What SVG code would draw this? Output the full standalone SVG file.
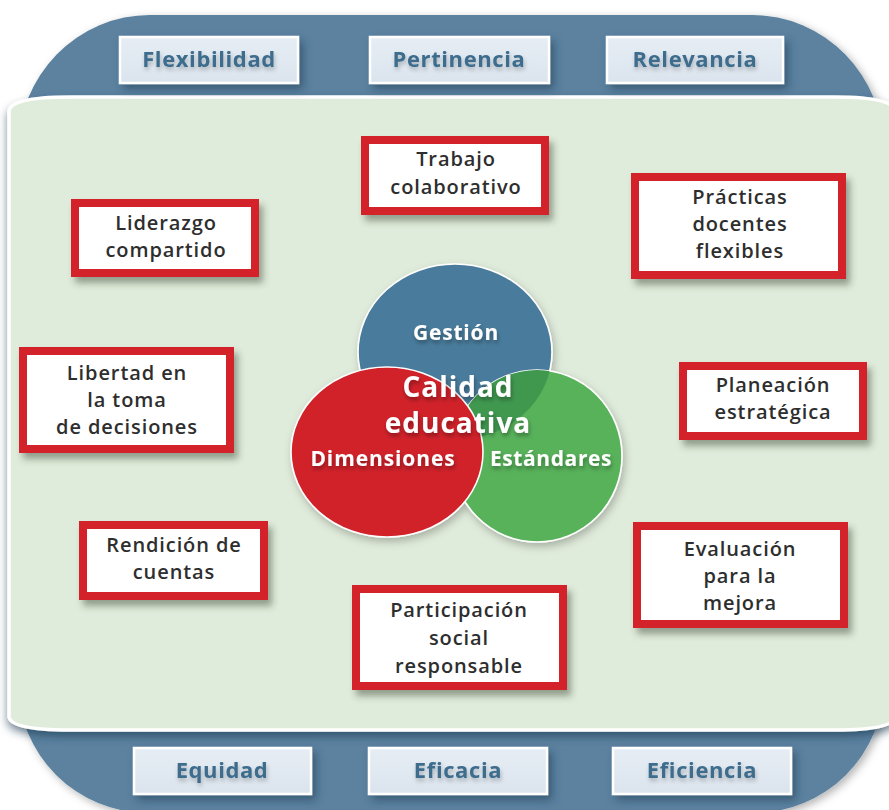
<svg xmlns="http://www.w3.org/2000/svg" width="889" height="810" viewBox="0 0 889 810">
<defs>
<style>
.tab rect{fill:url(#tabGrad);stroke:#ffffff;stroke-width:2.5;filter:url(#tabShadow)}
.tab text{font-family:"Open Sans","Liberation Sans",sans-serif;font-weight:700;font-size:22px;fill:#3c6c8d;text-anchor:middle;letter-spacing:0.6px;filter:url(#txtShadow)}
.box rect{fill:#ffffff;stroke:#d3222a;stroke-width:8;filter:url(#boxShadow)}
.box text{font-family:"Open Sans","Liberation Sans",sans-serif;font-weight:600;font-size:20px;fill:#2e2e2e;text-anchor:middle;letter-spacing:0.9px}
.ctext{font-family:"Open Sans","Liberation Sans",sans-serif;font-weight:700;fill:#ffffff;text-anchor:middle;filter:url(#cShadow)}
.circ{stroke:#ffffff;stroke-width:1.6}
</style>
<linearGradient id="tabGrad" x1="0" y1="0" x2="0" y2="1">
<stop offset="0" stop-color="#e6edf4"/>
<stop offset="1" stop-color="#dbe4ee"/>
</linearGradient>
<filter id="tabShadow" x="-20%" y="-40%" width="140%" height="200%">
<feGaussianBlur in="SourceAlpha" stdDeviation="4"/>
<feOffset dx="4" dy="5" result="b"/>
<feFlood flood-color="#1c3b52" flood-opacity="0.55"/>
<feComposite in2="b" operator="in"/>
<feMerge><feMergeNode/><feMergeNode in="SourceGraphic"/></feMerge>
</filter>
<filter id="txtShadow" x="-10%" y="-30%" width="120%" height="180%">
<feGaussianBlur in="SourceAlpha" stdDeviation="2"/>
<feOffset dx="1" dy="3" result="b"/>
<feFlood flood-color="#000000" flood-opacity="0.25"/>
<feComposite in2="b" operator="in"/>
<feMerge><feMergeNode/><feMergeNode in="SourceGraphic"/></feMerge>
</filter>
<filter id="boxShadow" x="-20%" y="-30%" width="140%" height="170%">
<feGaussianBlur in="SourceAlpha" stdDeviation="3.5"/>
<feOffset dx="4" dy="6" result="b"/>
<feFlood flood-color="#2e3b2a" flood-opacity="0.45"/>
<feComposite in2="b" operator="in"/>
<feMerge><feMergeNode/><feMergeNode in="SourceGraphic"/></feMerge>
</filter>
<filter id="cShadow" x="-20%" y="-40%" width="140%" height="200%">
<feGaussianBlur in="SourceAlpha" stdDeviation="2"/>
<feOffset dx="1" dy="3" result="b"/>
<feFlood flood-color="#000000" flood-opacity="0.35"/>
<feComposite in2="b" operator="in"/>
<feMerge><feMergeNode/><feMergeNode in="SourceGraphic"/></feMerge>
</filter>
<filter id="frameShadow" x="-5%" y="-5%" width="110%" height="110%">
<feGaussianBlur in="SourceAlpha" stdDeviation="4"/>
<feOffset dx="3" dy="3" result="b"/>
<feFlood flood-color="#000000" flood-opacity="0.3"/>
<feComposite in2="b" operator="in"/>
<feMerge><feMergeNode/><feMergeNode in="SourceGraphic"/></feMerge>
</filter>
<filter id="panelShadow" x="-5%" y="-5%" width="110%" height="110%">
<feGaussianBlur in="SourceAlpha" stdDeviation="4"/>
<feOffset dx="0" dy="5" result="b"/>
<feFlood flood-color="#1c3b52" flood-opacity="0.6"/>
<feComposite in2="b" operator="in"/>
<feMerge><feMergeNode/><feMergeNode in="SourceGraphic"/></feMerge>
</filter>
<filter id="circShadow" x="-20%" y="-20%" width="140%" height="140%">
<feGaussianBlur in="SourceAlpha" stdDeviation="4"/>
<feOffset dx="2" dy="4" result="b"/>
<feFlood flood-color="#000000" flood-opacity="0.25"/>
<feComposite in2="b" operator="in"/>
<feMerge><feMergeNode/><feMergeNode in="SourceGraphic"/></feMerge>
</filter>
<clipPath id="greenClip"><ellipse cx="537" cy="456" rx="85" ry="86"/></clipPath>
</defs>

<rect x="0" y="0" width="889" height="810" fill="#ffffff"/>

<!-- outer blue frame -->
<g id="frame">
<path d="M18,683 L18,150 A132,135 0 0 1 150,15 L752,15 A132,135 0 0 1 884,150 L884,683 A130,130 0 0 1 754,813 L148,813 A130,130 0 0 1 18,683 Z" fill="#5b82a0" filter="url(#frameShadow)"/>
</g>

<!-- green panel -->
<g id="panel">
<path d="M9,112 Q9,97 70,97 L835,97 Q895,97 895,112 L895,716 Q895,730 835,730 L70,730 Q9,730 9,716 Z" fill="#e0ecdb" stroke="#ffffff" stroke-width="3.5" filter="url(#panelShadow)"/>
</g>

<!-- top tabs -->
<g id="tab-flexibilidad" class="tab"><rect x="120" y="37" width="178" height="46"/><text x="209" y="67">Flexibilidad</text></g>
<g id="tab-pertinencia" class="tab"><rect x="370" y="37" width="179" height="46"/><text x="459" y="67">Pertinencia</text></g>
<g id="tab-relevancia" class="tab"><rect x="607" y="37" width="176" height="46"/><text x="695" y="67">Relevancia</text></g>

<!-- bottom tabs -->
<g id="tab-equidad" class="tab"><rect x="134" y="748" width="177" height="46"/><text x="222" y="778">Equidad</text></g>
<g id="tab-eficacia" class="tab"><rect x="369" y="748" width="178" height="46"/><text x="458" y="778">Eficacia</text></g>
<g id="tab-eficiencia" class="tab"><rect x="613" y="748" width="178" height="46"/><text x="702" y="778">Eficiencia</text></g>

<!-- central circles -->
<g id="circles" filter="url(#circShadow)">
<g id="circle-gestion"><ellipse class="circ" cx="455" cy="352" rx="97" ry="88" fill="#4a7b9c"/></g>
<g id="circle-estandares">
<ellipse class="circ" cx="537" cy="456" rx="85" ry="86" fill="#58b25a"/>
<ellipse cx="455" cy="352" rx="97" ry="88" fill="#40984f" clip-path="url(#greenClip)"/>
</g>
<g id="circle-dimensiones"><ellipse class="circ" cx="387" cy="452" rx="96" ry="85" fill="#d1202a"/></g>
</g>
<g id="circle-labels">
<text class="ctext" x="456" y="340" font-size="21" letter-spacing="0.8">Gestión</text>
<text class="ctext" x="458" y="397" font-size="28" font-weight="600" letter-spacing="1">Calidad</text>
<text class="ctext" x="458" y="433" font-size="28" font-weight="600" letter-spacing="1">educativa</text>
<text class="ctext" x="383" y="466" font-size="21" letter-spacing="0.9">Dimensiones</text>
<text class="ctext" x="551" y="466" font-size="21" letter-spacing="0.6">Estándares</text>
</g>

<!-- red boxes -->
<g id="node-trabajo" class="box"><rect x="365" y="140" width="180" height="71"/>
<text x="456" y="166">Trabajo</text><text x="456" y="194">colaborativo</text></g>

<g id="node-liderazgo" class="box"><rect x="75" y="203" width="180" height="70"/>
<text x="166" y="230">Liderazgo</text><text x="166" y="257">compartido</text></g>

<g id="node-practicas" class="box"><rect x="635" y="177" width="207" height="98"/>
<text x="740" y="204">Prácticas</text><text x="740" y="231">docentes</text><text x="740" y="258">flexibles</text></g>

<g id="node-libertad" class="box"><rect x="23" y="351" width="207" height="98"/>
<text x="127" y="380">Libertad en</text><text x="127" y="407">la toma</text><text x="127" y="434">de decisiones</text></g>

<g id="node-planeacion" class="box"><rect x="683" y="366" width="180" height="70"/>
<text x="773" y="392">Planeación</text><text x="773" y="419">estratégica</text></g>

<g id="node-rendicion" class="box"><rect x="83" y="525" width="181" height="71"/>
<text x="174" y="552">Rendición de</text><text x="174" y="579">cuentas</text></g>

<g id="node-evaluacion" class="box"><rect x="637" y="526" width="207" height="98"/>
<text x="740" y="556">Evaluación</text><text x="740" y="583">para la</text><text x="740" y="610">mejora</text></g>

<g id="node-participacion" class="box"><rect x="356" y="589" width="207" height="97"/>
<text x="459" y="617">Participación</text><text x="459" y="645">social</text><text x="459" y="673">responsable</text></g>

<g id="connectors"></g>
</svg>
